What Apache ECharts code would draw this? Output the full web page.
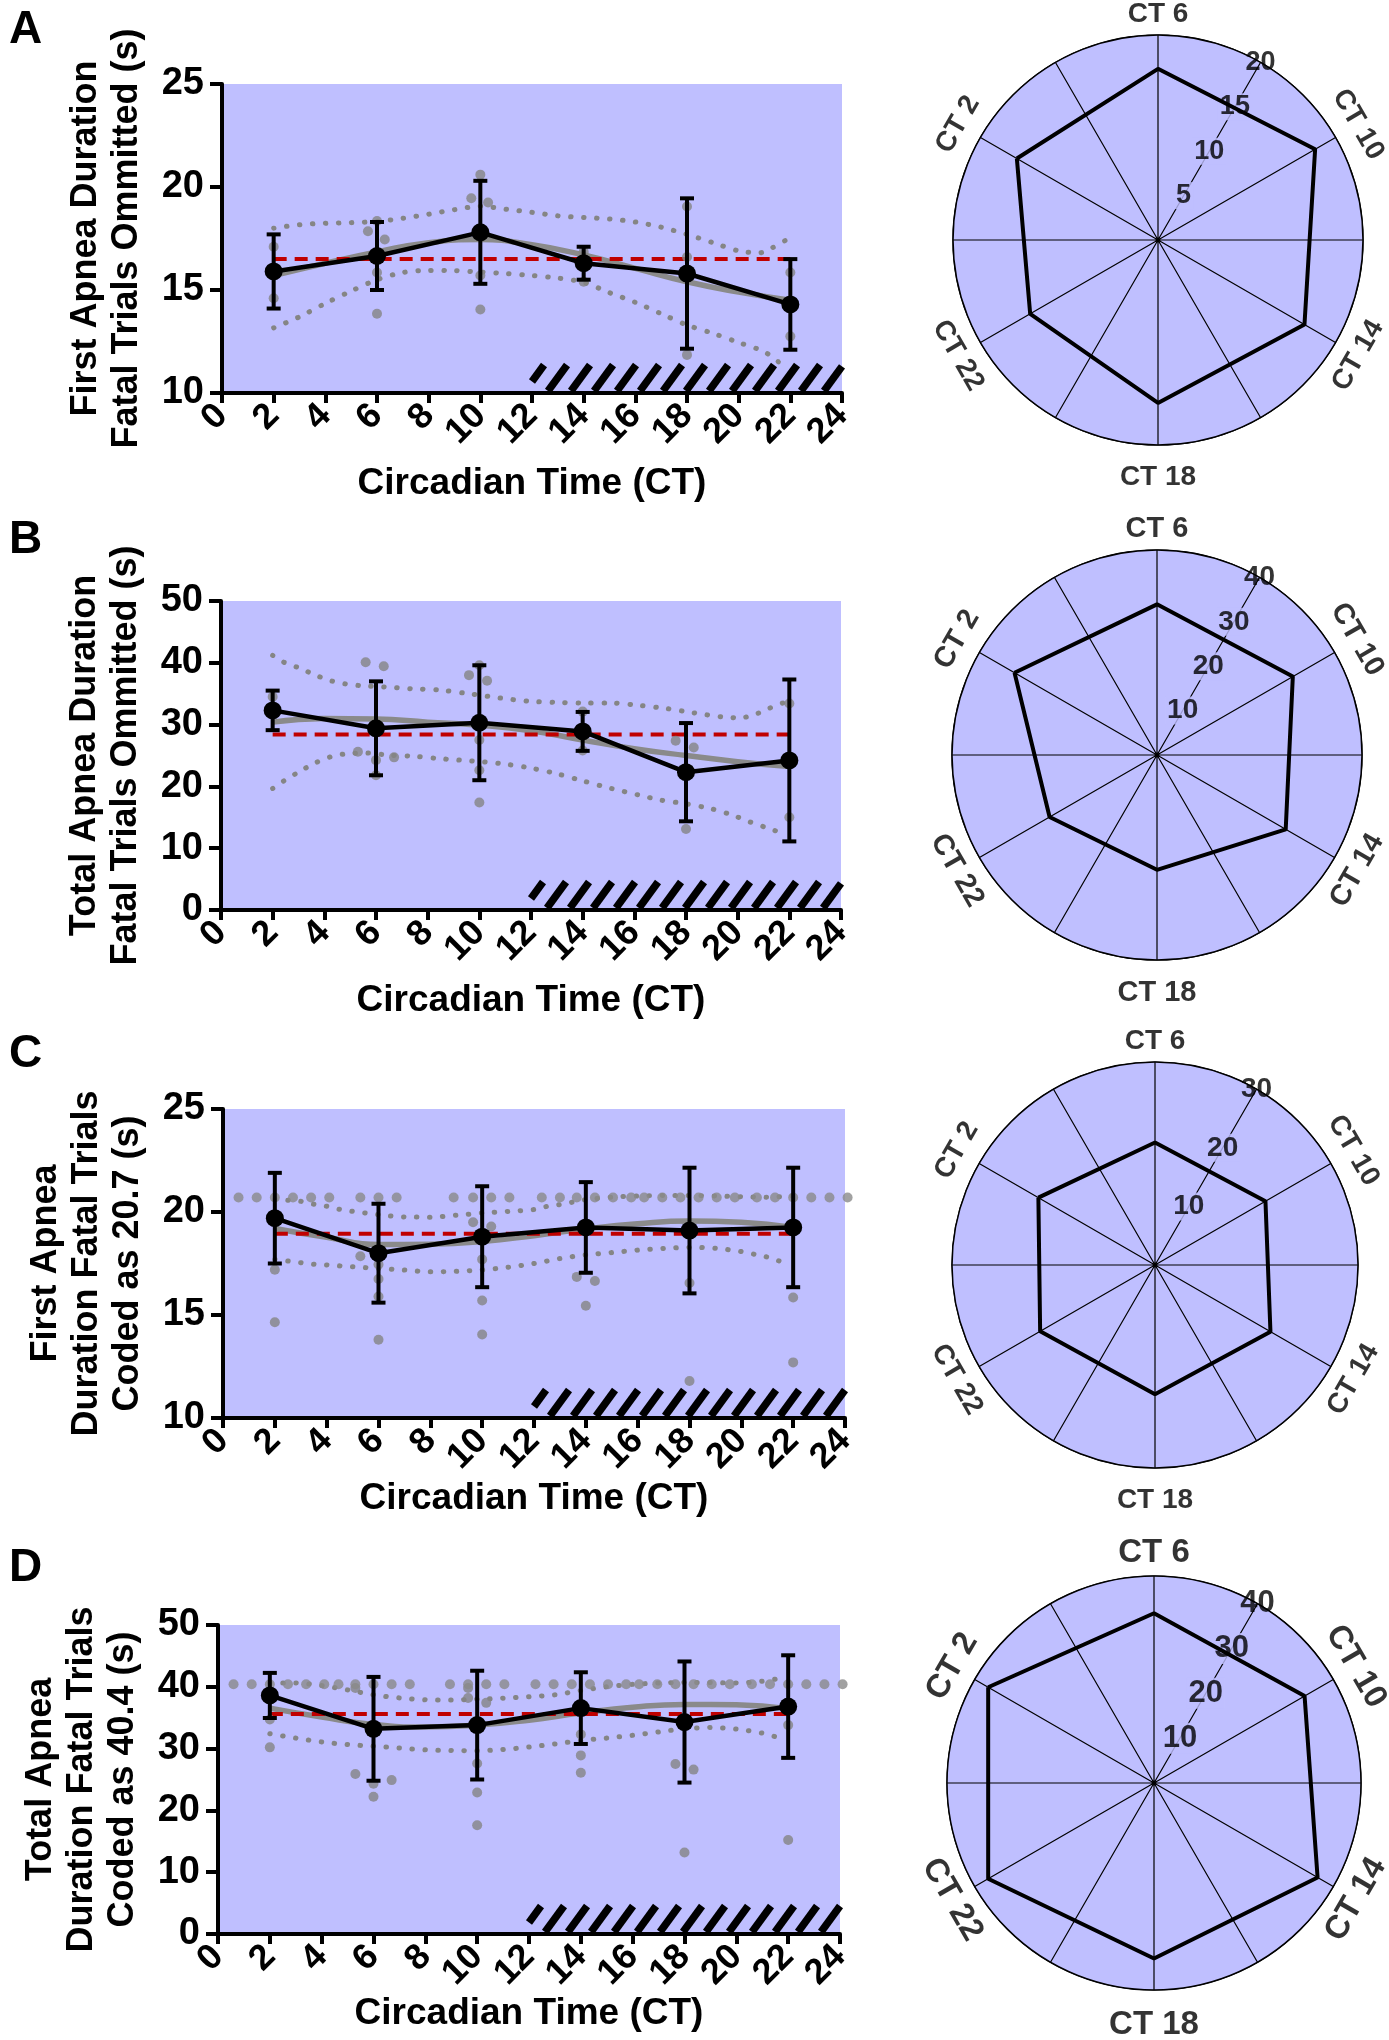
<!DOCTYPE html>
<html><head><meta charset="utf-8">
<script src="https://cdn.jsdelivr.net/npm/echarts@6/dist/echarts.min.js"></script>
<style>html,body{margin:0;padding:0;background:#fff}#c{width:1389px;height:2040px}</style>
</head><body><div id="c"></div><script>
// ---------- data ----------
const times = [2, 6, 10, 14, 18, 22];
const radarCategories = ['CT 2', 'CT 6', 'CT 10', 'CT 14', 'CT 18', 'CT 22'];
const darkPhase = [12, 24];
const xTickMax = 24, xTickStep = 2;

// Panel A
const meansA = [15.9, 16.65, 17.8, 16.3, 15.8, 14.3];
const sdA = [1.8, 1.65, 2.5, 0.8, 3.65, 2.2];
const refA = 16.5;
const individualsA = [[2,17.1],[2,14.6],[6,18.35],[5.65,17.85],[6.3,17.45],[6,15.85],[6,13.85],[10,20.6],[9.65,19.45],[10.3,19.25],[10,15.7],[10,14.05],[14,16.85],[14,15.4],[18,19.05],[18,16.6],[18,11.85],[22,15.85],[22,12.75]];
const fitA = [[2,15.7],[4,16.3],[6,16.85],[8,17.3],[10,17.45],[12,17.2],[14,16.7],[16,16.05],[18,15.4],[20,14.9],[22,14.5]];
const bandUpperA = [[2,18.0],[3,18.17],[4,18.24],[5,18.27],[6,18.33],[7,18.48],[8,18.68],[9,18.9],[10,19.06],[11,18.92],[12,18.77],[13,18.6],[14,18.52],[15,18.45],[16,18.3],[17,18.05],[18,17.7],[19,17.3],[20,16.9],[20.8,16.8],[21.3,17.05],[21.8,17.4]];
const bandLowerA = [[2,13.16],[3,13.7],[4,14.35],[5,14.95],[6,15.5],[7,15.85],[8,15.95],[9,15.94],[10,15.87],[11,15.8],[12,15.7],[13,15.58],[14,15.37],[15,14.87],[16,14.4],[17,13.85],[18,13.3],[19,12.9],[20,12.45],[21,12.0],[21.6,11.45]];
const radarA = [15.9, 16.7, 17.7, 16.5, 15.9, 14.4];
const radarTicksA = [5, 10, 15, 20];

// Panel B
const meansB = [32.3, 29.4, 30.3, 28.9, 22.3, 24.2];
const sdB = [3.2, 7.6, 9.3, 3.15, 7.95, 13.1];
const refB = 28.4;
const individualsB = [[2,34.5],[5.6,40.1],[6.3,39.45],[5.3,25.6],[6,24.25],[6.7,24.7],[6,21.8],[9.6,38.0],[10.3,37.1],[10,39.6],[10,27.5],[10,22.6],[10,17.4],[14,32.1],[14,25.8],[17.6,27.4],[18.3,26.3],[18,13.1],[22,33.4],[22,15.0]];
const fitB = [[2,30.4],[4,31.0],[6,30.9],[8,30.4],[10,29.9],[12,29.0],[14,27.5],[16,26.1],[18,25.0],[20,24.0],[22,23.2]];
const bandUpperB = [[2,41.2],[2.43,40.1],[3.07,39.1],[3.6,38.1],[4.25,37.1],[4.8,36.6],[5.43,36.3],[6.3,36.1],[7.36,35.8],[8.44,35.6],[9.6,35.0],[10.8,34.3],[11.87,33.8],[12.95,33.6],[14.0,33.5],[15.1,33.5],[16.2,33.1],[17.24,32.6],[18.3,31.9],[19.4,31.25],[20.1,31.1],[20.7,31.7],[21.2,32.6],[21.75,33.5]];
const bandLowerB = [[2,19.67],[2.43,20.9],[3.07,22.47],[3.6,23.7],[4.25,24.8],[4.9,25.3],[5.65,25.4],[6.5,25.05],[7.36,24.9],[8.44,24.5],[9.72,24.1],[10.8,23.7],[11.87,23.06],[12.95,22.1],[14.0,20.9],[15.1,19.67],[16.17,18.6],[17.0,17.8],[17.9,17.24],[18.96,16.4],[19.8,15.35],[20.46,14.28],[21.2,13.2],[21.75,12.4]];
const radarB = [32.1, 29.4, 30.6, 29.0, 22.4, 24.2];
const radarTicksB = [10, 20, 30, 40];

// Panel C
const meansC = [19.7, 18.0, 18.8, 19.25, 19.1, 19.25];
const sdC = [2.2, 2.4, 2.45, 2.2, 3.05, 2.9];
const refC = 18.95;
const codedC = 20.7;
const codedXC = [0.6,1.3,2.0,2.7,3.4,4.1,5.3,6.0,6.7,8.9,9.65,10.35,11.05,12.3,13.0,13.65,14.35,15.05,15.75,16.25,16.95,17.65,18.35,19.05,19.75,20.6,21.3,22.0,22.7,23.4,24.1];
const individualsC = [[2,17.2],[2,14.65],[5.3,17.85],[6,17.45],[6,16.75],[6,15.9],[6,13.8],[9.65,19.5],[10.35,19.3],[10,17.7],[10,15.7],[10,14.05],[13.65,16.85],[14.35,16.65],[14,15.45],[18,16.55],[18,11.8],[22,15.85],[22,12.7]];
const fitC = [[2,19.2],[4,18.77],[6,18.42],[8,18.44],[10,18.57],[12,18.85],[14,19.18],[16,19.43],[18,19.56],[20,19.5],[22,19.25]];
const bandUpperC = [[2,20.62],[2.5,20.57],[3,20.52],[3.5,20.38],[4,20.28],[4.5,20.13],[5,20.03],[5.5,19.95],[6,19.87],[7,19.76],[8,19.75],[9,19.84],[10,19.95],[11,20.03],[12,20.12],[12.5,20.27],[13,20.36],[13.5,20.48],[14,20.6],[15,20.72],[16,20.78],[17,20.8],[18,20.8],[19,20.78],[20,20.74],[21,20.72],[22,20.78]];
const bandLowerC = [[2,17.7],[2.5,17.62],[3,17.54],[3.5,17.46],[4,17.43],[5,17.34],[6,17.26],[7,17.18],[8,17.1],[9,17.12],[10,17.19],[11,17.32],[12,17.5],[13,17.74],[14,17.92],[15,18.03],[16,18.15],[17,18.23],[18,18.28],[19,18.24],[20,18.08],[20.6,17.92],[21.07,17.79],[21.53,17.59]];
const radarC = [19.9, 18.1, 18.85, 19.7, 19.1, 19.6];
const radarTicksC = [10, 20, 30];

// Panel D
const meansD = [38.6, 33.2, 33.8, 36.55, 34.3, 36.8];
const sdD = [3.65, 8.4, 8.8, 5.8, 9.8, 8.3];
const refD = 35.6;
const codedD = 40.4;
const codedXD = [0.6,1.3,2.0,2.7,3.4,4.1,4.65,5.3,6.0,6.7,7.4,8.95,9.65,10.35,11.05,12.25,12.95,13.65,14.35,15.05,15.75,16.25,16.95,17.65,18.35,19.05,19.75,20.6,21.3,22.0,22.7,23.4,24.1];
const individualsD = [[2,34.7],[2,30.2],[5.3,39.8],[5.3,25.9],[6,24.3],[6.7,24.9],[6,22.2],[9.65,39.8],[9.65,38.2],[10.35,37.4],[10,27.6],[10,22.9],[10,17.6],[14,32.3],[14,28.9],[14,26.1],[17.65,27.5],[18.35,26.6],[18,13.2],[22,33.8],[22,15.2]];
const fitD = [[2,36.55],[4,35.1],[6,33.9],[8,33.5],[10,33.8],[12,34.6],[14,35.75],[16,36.7],[18,37.15],[20,37.1],[22,36.45]];
const bandUpperD = [[2,40.6],[3,40.6],[4,40.2],[5,39.5],[6,38.7],[7,38.2],[8,37.9],[9,37.85],[10,38.0],[11,38.15],[12,38.4],[13,38.7],[14,39.4],[15,40.0],[16,40.4],[17,40.6],[18,40.7],[19,40.7],[20,40.6],[21,40.9],[21.6,41.3]];
const bandLowerD = [[2,32.4],[3,31.7],[4,31.08],[5,30.65],[6,30.4],[7,30.1],[8,29.8],[9,29.7],[10,29.65],[11,29.85],[12,30.25],[13,30.75],[14,31.3],[15,31.7],[16,32.15],[17,32.7],[18,33.2],[19,33.4],[20,33.15],[21,32.5],[21.6,31.8]];
const radarD = [37.0, 32.8, 33.6, 36.5, 33.9, 37.0];
const radarTicksD = [10, 20, 30, 40];

// ---------- panel descriptions ----------
const panels = [
  {letter:'A', yName:'First Apnea Duration\nFatal Trials Ommitted (s)', yMin:10, yMax:25, yInt:5,
   means:meansA, sd:sdA, ref:refA, ind:individualsA, fit:fitA, up:bandUpperA, lo:bandLowerA, coded:null, codedX:null,
   radar:radarA, rTicks:radarTicksA},
  {letter:'B', yName:'Total Apnea Duration\nFatal Trials Ommitted (s)', yMin:0, yMax:50, yInt:10,
   means:meansB, sd:sdB, ref:refB, ind:individualsB, fit:fitB, up:bandUpperB, lo:bandLowerB, coded:null, codedX:null,
   radar:radarB, rTicks:radarTicksB},
  {letter:'C', yName:'First Apnea\nDuration Fatal Trials\nCoded as 20.7 (s)', yMin:10, yMax:25, yInt:5,
   means:meansC, sd:sdC, ref:refC, ind:individualsC, fit:fitC, up:bandUpperC, lo:bandLowerC, coded:codedC, codedX:codedXC,
   radar:radarC, rTicks:radarTicksC},
  {letter:'D', yName:'Total Apnea\nDuration Fatal Trials\nCoded as 40.4 (s)', yMin:0, yMax:50, yInt:10,
   means:meansD, sd:sdD, ref:refD, ind:individualsD, fit:fitD, up:bandUpperD, lo:bandLowerD, coded:codedD, codedX:codedXD,
   radar:radarD, rTicks:radarTicksD}
];

// ---------- layout / style ----------
const F = '"Liberation Sans", Arial, Helvetica, sans-serif';
const LAV = '#bfbfff';
const GRAY = '#858585';
const gridBoxes = [
  {left:222, top:84, width:620, height:309},
  {left:221, top:601, width:620, height:309},
  {left:223, top:1109, width:622, height:309},
  {left:218, top:1625, width:622, height:309}
];
const letterTops = [2, 512, 1026, 1540];
const xNameGaps = [72, 72, 62, 58];
const polarCenters = [[1158,240],[1157,755],[1155,1265],[1154,1783]];
const polarRadii = [205, 205, 203, 207];
const catFont = [28, 29, 28, 33];
const tickFont = [27, 28, 28, 31];

const angOf = t => ((t * 15 + 240) % 360);
const screenAng = t => { let a = (60 - angOf(t)) % 360; if (a < -180) a += 360; if (a > 180) a -= 360; return a; };
const rotOf = t => { let s = screenAng(t) - 90; let r = ((s % 180) + 180) % 180; if (r > 90) r -= 180; return r; };

function hatchRender(params, api) {
  const cs = params.coordSys;
  const xa = api.coord([api.value(0), api.value(2)])[0];
  const xb = api.coord([api.value(1), api.value(2)])[0];
  const bottom = cs.y + cs.height - 2;
  const top = cs.y + cs.height - 28;
  const pitch = 23, slant = 19;
  const kids = [];
  for (let s = xa - 7; s < xb; s += pitch) {
    let x1 = s, y1 = bottom, x2 = s + slant, y2 = top;
    const dx = slant, dy = top - bottom;
    if (x1 < xa) { const t = (xa - s) / dx; x1 = xa; y1 = bottom + t * dy; }
    if (x2 > xb) { const t = (xb - s) / dx; x2 = xb; y2 = bottom + t * dy; }
    if (x2 - x1 < 1) continue;
    kids.push({type:'line', shape:{x1, y1, x2, y2}, style:{stroke:'#000', lineWidth:7.5, lineCap:'butt'}});
  }
  return {type:'group', children:kids};
}

function errRender(params, api) {
  const lo = api.coord([api.value(0), api.value(1)]);
  const hi = api.coord([api.value(0), api.value(2)]);
  const w = 7;
  const st = {stroke:'#000', lineWidth:4};
  return {type:'group', children:[
    {type:'line', shape:{x1:lo[0], y1:lo[1], x2:hi[0], y2:hi[1]}, style:st},
    {type:'line', shape:{x1:lo[0]-w, y1:lo[1], x2:lo[0]+w, y2:lo[1]}, style:st},
    {type:'line', shape:{x1:hi[0]-w, y1:hi[1], x2:hi[0]+w, y2:hi[1]}, style:st}
  ]};
}

const txt = (size) => ({fontFamily:F, fontSize:size, fontWeight:'bold', color:'#000'});

const option = {animation:false, backgroundColor:'#fff', title:[], grid:[], xAxis:[], yAxis:[], polar:[], angleAxis:[], radiusAxis:[], series:[]};

panels.forEach((p, i) => {
  option.title.push({text:p.letter, left:4, top:letterTops[i], textStyle:txt(46)});
  option.grid.push(Object.assign({show:true, backgroundColor:LAV, borderWidth:0, containLabel:false, outerBoundsMode:'none'}, gridBoxes[i]));
  option.xAxis.push({gridIndex:i, type:'value', min:0, max:xTickMax, interval:xTickStep,
    name:'Circadian Time (CT)', nameLocation:'middle', nameGap:xNameGaps[i], nameTextStyle:txt(37),
    axisLine:{show:true, onZero:false, lineStyle:{color:'#000', width:4}},
    axisTick:{show:true, length:10, lineStyle:{color:'#000', width:4}},
    axisLabel:Object.assign({rotate:45, margin:17, showMinLabel:true, showMaxLabel:true, hideOverlap:false}, txt(36)),
    splitLine:{show:false}});
  option.yAxis.push({gridIndex:i, type:'value', min:p.yMin, max:p.yMax, interval:p.yInt,
    name:p.yName, nameLocation:'middle', nameGap:74, nameTextStyle:Object.assign({lineHeight:41, align:'center'}, txt(36)),
    axisLine:{show:true, onZero:false, lineStyle:{color:'#000', width:4}},
    axisTick:{show:true, length:12, lineStyle:{color:'#000', width:4}},
    axisLabel:Object.assign({margin:18, showMinLabel:true, showMaxLabel:true}, txt(38)),
    splitLine:{show:false}});

  const ax = {xAxisIndex:i, yAxisIndex:i};
  option.series.push(Object.assign({type:'custom', z:1, silent:true, data:[[darkPhase[0], darkPhase[1], p.yMin]],
    encode:{x:[0,1], y:2}, renderItem:hatchRender}, ax));
  [p.up, p.lo].forEach(b => option.series.push(Object.assign({type:'line', z:2, data:b, smooth:0.3, symbol:'none', silent:true,
    lineStyle:{color:GRAY, width:5, type:[0.5, 12.5], cap:'round'}}, ax)));
  option.series.push(Object.assign({type:'line', z:3, data:p.fit, smooth:true, symbol:'none', silent:true,
    lineStyle:{color:'#8a8a8a', width:5.5}}, ax));
  option.series.push(Object.assign({type:'line', z:4, data:[[times[0], p.ref], [times[times.length-1], p.ref]], symbol:'none', silent:true,
    lineStyle:{color:'#c00000', width:4, type:[13, 8]}}, ax));
  option.series.push(Object.assign({type:'scatter', z:5, data:p.ind, symbolSize:10, itemStyle:{color:GRAY}, silent:true}, ax));
  if (p.codedX) {
    option.series.push(Object.assign({type:'scatter', z:5, data:p.codedX.map(x => [x, p.coded]), symbolSize:10, clip:false,
      itemStyle:{color:'#8a8a8a'}, silent:true}, ax));
  }
  option.series.push(Object.assign({type:'custom', z:6, silent:true,
    data:times.map((t, k) => [t, p.means[k] - p.sd[k], p.means[k] + p.sd[k]]),
    encode:{x:0, y:[1,2]}, renderItem:errRender}, ax));
  option.series.push(Object.assign({type:'line', z:7, data:times.map((t, k) => [t, p.means[k]]), symbol:'circle', symbolSize:18,
    itemStyle:{color:'#000'}, lineStyle:{color:'#000', width:4.5}, silent:true}, ax));

  // radar-like polar
  const rMax = p.rTicks[p.rTicks.length - 1];
  const rInt = p.rTicks[1] - p.rTicks[0];
  const R = polarRadii[i];
  option.polar.push({center:polarCenters[i], radius:R});
  option.angleAxis.push({polarIndex:i, type:'value', min:0, max:360, interval:30, startAngle:60, clockwise:true,
    axisLine:{show:true, lineStyle:{color:'#000', width:1.5}}, axisTick:{show:false}, axisLabel:{show:false},
    splitLine:{show:true, lineStyle:{color:'#000', width:1.2}}});
  option.radiusAxis.push({polarIndex:i, type:'value', min:0, max:rMax, interval:rInt,
    axisLine:{show:false}, axisTick:{show:false}, axisLabel:{show:false},
    splitLine:{show:true, lineStyle:{color:'#000', width:1.2}},
    splitArea:{show:true, areaStyle:{color:[LAV]}}});
  option.series.push({type:'scatter', coordinateSystem:'polar', polarIndex:i, z:4, clip:false, silent:true,
    data:p.rTicks.map((v, k) => ({value:[v, 0], label:{backgroundColor: k === p.rTicks.length - 1 ? 'transparent' : LAV}})),
    symbol:'circle', symbolSize:1, itemStyle:{color:'rgba(0,0,0,0)'},
    label:Object.assign({show:true, position:'inside', formatter:d => String(d.value[0]), padding:[0,2]}, txt(tickFont[i]))});
  option.series.push({type:'line', coordinateSystem:'polar', polarIndex:i, z:6, clip:false, silent:true, symbol:'none',
    data:times.concat([times[0]]).map((t, k) => [p.radar[k % times.length], angOf(t)]),
    lineStyle:{color:'#000', width:4}});
  option.series.push({type:'scatter', coordinateSystem:'polar', polarIndex:i, z:4, clip:false, silent:true,
    symbol:'circle', symbolSize:1, itemStyle:{color:'rgba(0,0,0,0)'},
    data:times.map((t, k) => {
      const a = screenAng(t);
      if (Math.abs(a - 90) < 1) return {name:radarCategories[k], value:[rMax, angOf(t)], label:{position:'top', distance:6}};
      if (Math.abs(a + 90) < 1) return {name:radarCategories[k], value:[rMax, angOf(t)], label:{position:'bottom', distance:18}};
      return {name:radarCategories[k], value:[rMax * (1 + 26 / R), angOf(t)], label:{position:'inside', rotate:rotOf(t)}};
    }),
    label:Object.assign({show:true, formatter:d => d.name}, txt(catFont[i]))});
});

const chart = echarts.init(document.getElementById('c'), null, {renderer:'canvas', width:1389, height:2040});
chart.setOption(option);
</script></body></html>
